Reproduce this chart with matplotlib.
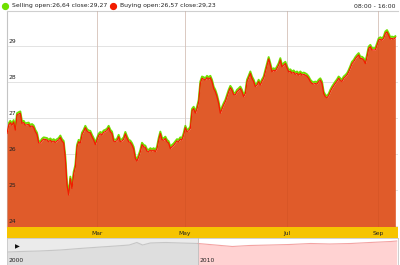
import matplotlib
matplotlib.use('Agg')
import matplotlib.pyplot as plt
import matplotlib.transforms as mtransforms
from matplotlib.lines import Line2D

# ---------------- data ----------------
selling = [
    26.64, 26.85, 26.92, 26.85, 26.94, 26.71, 27.13, 27.16, 27.18, 26.90,
    26.92, 26.85, 26.86, 26.87, 26.80, 26.83, 26.79, 26.67, 26.59, 26.36,
    26.35, 26.42, 26.46, 26.45, 26.44, 26.39, 26.43, 26.38, 26.41, 26.37,
    26.41, 26.44, 26.51, 26.41, 26.36, 25.93, 25.19, 24.91, 25.37, 25.09,
    25.50, 25.69, 26.25, 26.39, 26.35, 26.59, 26.67, 26.78, 26.69, 26.65,
    26.64, 26.53, 26.44, 26.31, 26.44, 26.56, 26.61, 26.58, 26.65, 26.67,
    26.70, 26.78, 26.67, 26.62, 26.41, 26.39, 26.42, 26.53, 26.39, 26.41,
    26.46, 26.61, 26.49, 26.39, 26.37, 26.30, 26.19, 25.93, 25.85, 25.97,
    26.11, 26.31, 26.25, 26.23, 26.13, 26.11, 26.16, 26.13, 26.16, 26.11,
    26.20, 26.44, 26.62, 26.45, 26.43, 26.48, 26.39, 26.35, 26.20, 26.25,
    26.29, 26.35, 26.41, 26.39, 26.46, 26.44, 26.58, 26.78, 26.67, 26.69,
    26.76, 27.25, 27.31, 27.18, 27.31, 27.50, 28.01, 28.15, 28.13, 28.10,
    28.17, 28.13, 28.17, 28.06, 27.87, 27.78, 27.64, 27.45, 27.18, 27.30,
    27.41, 27.50, 27.64, 27.78, 27.89, 27.82, 27.70, 27.69, 27.78, 27.82,
    27.87, 27.78, 27.64, 27.73, 28.06, 28.17, 28.29, 28.15, 28.06, 27.92,
    27.96, 28.06, 27.96, 28.07, 28.15, 28.33, 28.52, 28.69, 28.52, 28.33,
    28.38, 28.35, 28.43, 28.52, 28.66, 28.47, 28.52, 28.56, 28.44, 28.33,
    28.35, 28.29, 28.32, 28.26, 28.29, 28.24, 28.29, 28.24, 28.26, 28.24,
    28.21, 28.15, 28.06, 28.01, 27.99, 28.01, 27.99, 28.06, 28.10, 28.01,
    27.73, 27.64, 27.61, 27.67, 27.78, 27.87, 27.94, 28.01, 28.07, 28.15,
    28.10, 28.06, 28.15, 28.19, 28.24, 28.33, 28.44, 28.56, 28.61, 28.69,
    28.75, 28.80, 28.70, 28.70, 28.66, 28.56, 28.75, 28.98, 29.03, 28.94,
    28.94, 28.94, 29.07, 29.21, 29.24, 29.21, 29.26, 29.40, 29.44, 29.35,
    29.24, 29.26, 29.24, 29.27,
]
buying = [
    26.57, 26.80, 26.87, 26.80, 26.89, 26.66, 27.08, 27.11, 27.13, 26.85,
    26.87, 26.80, 26.81, 26.82, 26.75, 26.78, 26.74, 26.62, 26.54, 26.31,
    26.30, 26.37, 26.41, 26.40, 26.39, 26.34, 26.38, 26.33, 26.36, 26.32,
    26.36, 26.39, 26.46, 26.36, 26.31, 25.88, 25.14, 24.86, 25.32, 25.04,
    25.45, 25.64, 26.20, 26.34, 26.30, 26.54, 26.62, 26.73, 26.64, 26.60,
    26.59, 26.48, 26.39, 26.26, 26.39, 26.51, 26.56, 26.53, 26.60, 26.62,
    26.65, 26.73, 26.62, 26.57, 26.36, 26.34, 26.37, 26.48, 26.34, 26.36,
    26.41, 26.56, 26.44, 26.34, 26.32, 26.25, 26.14, 25.88, 25.80, 25.92,
    26.06, 26.26, 26.20, 26.18, 26.08, 26.06, 26.11, 26.08, 26.11, 26.06,
    26.15, 26.39, 26.57, 26.40, 26.38, 26.43, 26.34, 26.30, 26.15, 26.20,
    26.24, 26.30, 26.36, 26.34, 26.41, 26.39, 26.53, 26.73, 26.62, 26.64,
    26.71, 27.20, 27.26, 27.13, 27.26, 27.45, 27.96, 28.10, 28.08, 28.05,
    28.12, 28.08, 28.12, 28.01, 27.82, 27.73, 27.59, 27.40, 27.13, 27.25,
    27.36, 27.45, 27.59, 27.73, 27.84, 27.77, 27.65, 27.64, 27.73, 27.77,
    27.82, 27.73, 27.59, 27.68, 28.01, 28.12, 28.24, 28.10, 28.01, 27.87,
    27.91, 28.01, 27.91, 28.02, 28.10, 28.28, 28.47, 28.64, 28.47, 28.28,
    28.33, 28.30, 28.38, 28.47, 28.61, 28.42, 28.47, 28.51, 28.39, 28.28,
    28.30, 28.24, 28.27, 28.21, 28.24, 28.19, 28.24, 28.19, 28.21, 28.19,
    28.16, 28.10, 28.01, 27.96, 27.94, 27.96, 27.94, 28.01, 28.05, 27.96,
    27.68, 27.59, 27.56, 27.62, 27.73, 27.82, 27.89, 27.96, 28.02, 28.10,
    28.05, 28.01, 28.10, 28.14, 28.19, 28.28, 28.39, 28.51, 28.56, 28.64,
    28.70, 28.75, 28.65, 28.65, 28.61, 28.51, 28.70, 28.93, 28.98, 28.89,
    28.89, 28.89, 29.02, 29.16, 29.19, 29.16, 29.21, 29.35, 29.39, 29.30,
    29.19, 29.21, 29.19, 29.23,
]
days = list(range(len(selling)))

y_ticks = [24, 25, 26, 27, 28, 29]
month_labels = ["Mar", "May", "Jul", "Sep"]
month_pos = [54, 106.5, 168, 222.5]

nav_years = [2000.0, 2000.7, 2001.7, 2002.8, 2003.8, 2004.9, 2005.7, 2006.4,
             2006.8, 2007.1, 2007.5, 2008.3, 2009.1, 2010.0, 2010.9, 2011.8,
             2012.7, 2013.8, 2014.8, 2015.9, 2016.9, 2018.0, 2019.0, 2020.1,
             2020.4]
nav_values = [13.0, 13.5, 14.0, 15.0, 16.5, 18.0, 19.0, 20.0,
              22.5, 20.0, 22.0, 22.5, 22.0, 21.5, 20.0, 18.5,
              19.5, 20.0, 20.5, 21.5, 21.0, 21.5, 22.5, 23.5,
              24.0]
nav_split = 2010.0
nav_labels = ["2000", "2010"]
nav_label_years = [2000, 2010]

legend_sell = "Selling open:26,64 close:29,27"
legend_buy = "Buying open:26,57 close:29,23"
session = "08:00 - 16:00"

# ---------------- style ----------------
GREEN = '#6fe000'
RED = '#f21c00'
ORANGE = '#e05b2a'
GRID = '#dedede'
TXT = '#222222'
W, H = 400, 265

def fr(x0, y0, x1, y1):
    return [x0 / W, 1 - y1 / H, (x1 - x0) / W, (y1 - y0) / H]

fig = plt.figure(figsize=(4, 2.65), dpi=100)
fig.patch.set_facecolor('white')

# main chart
ax = fig.add_axes(fr(7, 11, 398, 227))
ax.set_xlim(0, 234.6)
ax.set_ylim(23.97, 29.97)
for v in y_ticks:
    ax.axhline(v, color=GRID, lw=0.6, zorder=1)
for p in month_pos:
    ax.axvline(p, color=GRID, lw=0.6, zorder=1)
    ax.axvline(p, color='#b04010', lw=0.5, alpha=0.22, zorder=5)
ax.plot(days, selling, color=GREEN, lw=1.4, zorder=2, solid_joinstyle='round')
ax.fill_between(days, buying, 23.0, color=ORANGE, lw=0, zorder=3)
ax.plot(days, buying, color=RED, lw=0.9, zorder=4, solid_joinstyle='round')
ax.set_xticks([])
ax.set_yticks([])
for s in ['right', 'bottom']:
    ax.spines[s].set_visible(False)
ax.spines['left'].set_color('#c4c4c4')
ax.spines['top'].set_color('#cfcfcf')
ax.spines['left'].set_linewidth(0.8)
ax.spines['top'].set_linewidth(0.8)
trans = mtransforms.blended_transform_factory(ax.transAxes, ax.transData)
for v in y_ticks:
    ax.text(0.004, v + 0.04, str(v), transform=trans, ha='left', va='bottom',
            fontsize=4.3, color=TXT, zorder=6)

# month bar
axm = fig.add_axes(fr(7, 227, 398, 238))
axm.set_xlim(0, 234.6)
axm.set_ylim(0, 1)
axm.set_facecolor('#f6c400')
for s in axm.spines.values():
    s.set_visible(False)
axm.set_xticks([])
axm.set_yticks([])
for p, lab in zip(month_pos, month_labels):
    axm.text(p, 0.45, lab, ha='center', va='center', fontsize=4.3, color=TXT)

# navigator
axn = fig.add_axes(fr(7, 238, 398, 265))
axn.set_xlim(2000, 2020.47)
axn.set_ylim(0, 27)
left_x = [x for x in nav_years if x <= nav_split]
left_v = nav_values[:len(left_x)]
right_x = nav_years[len(left_x) - 1:]
right_v = nav_values[len(left_x) - 1:]
axn.axvspan(2000, nav_split, color='#ebebeb', lw=0, zorder=0)
axn.fill_between(left_x, left_v, 0, color='#dedede', lw=0, zorder=1)
axn.plot(left_x, left_v, color='#c6c6c6', lw=0.8, zorder=2)
axn.fill_between(right_x, right_v, 0, color='#ffd2d2', lw=0, zorder=1)
axn.plot(right_x, right_v, color='#f4a3a3', lw=0.8, zorder=2)
axn.axvline(nav_split, color='#bdbdbd', lw=0.6, zorder=3)
axn.set_xticks([])
axn.set_yticks([])
for s in axn.spines.values():
    s.set_color('#c8c8c8')
    s.set_linewidth(0.6)
axn.text(0.02, 0.67, '\u25b6', transform=axn.transAxes, ha='left', va='center',
         fontsize=4.5, color='#111', zorder=4)
for yr, lab in zip(nav_label_years, nav_labels):
    axn.text(yr + 0.1, 2.5, lab, ha='left', va='bottom', fontsize=4.3,
             color=TXT, zorder=4)

# legend row
fig.add_artist(Line2D([5 / W], [1 - 6 / H], marker='o', markersize=4.2,
                      color=GREEN, transform=fig.transFigure, lw=0))
fig.add_artist(Line2D([113 / W], [1 - 6 / H], marker='o', markersize=4.2,
                      color=RED, transform=fig.transFigure, lw=0))
fig.text(12 / W, 1 - 6 / H, legend_sell, ha='left', va='center', fontsize=4.4,
         color=TXT)
fig.text(120 / W, 1 - 6 / H, legend_buy, ha='left', va='center', fontsize=4.4,
         color=TXT)
fig.text(395 / W, 1 - 6 / H, session, ha='right', va='center', fontsize=4.4,
         color=TXT)

fig.savefig('out.png', dpi=100, facecolor='white')
